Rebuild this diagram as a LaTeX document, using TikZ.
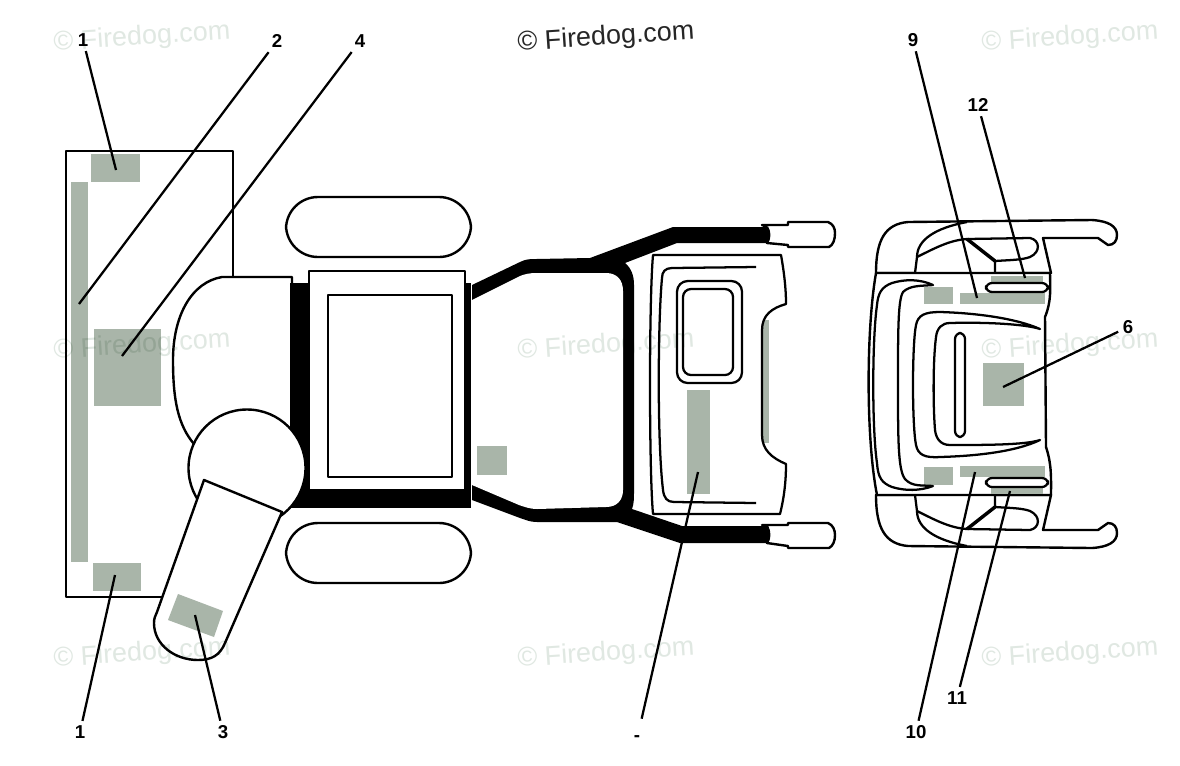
\documentclass[tikz,border=0pt]{standalone}
\usepackage{fontspec}
\setmainfont{Liberation Sans}
\usetikzlibrary{calc}
\definecolor{patch}{HTML}{A9B5A9}
\definecolor{mark}{HTML}{E0E8E2}
\tikzset{
  part/.style={draw=black,line width=1.8pt,fill=white,line join=round},
  thin part/.style={draw=black,line width=1.7pt,line join=round},
  patchbox/.style={fill=patch,draw=none},
  leader/.style={draw=black,line width=1.7pt},
  lab/.style={font=\fontsize{14}{16}\selectfont\bfseries,inner sep=0pt,outer sep=3.5pt},
  wmark/.style={font=\fontsize{20.2}{22}\selectfont,rotate=3.8,inner sep=0pt,text=mark},
}
\newcommand{\rearhandle}{%
  \draw[part] (876,273) .. controls (876,240) and (885,224) .. (908,222)
     -- (1092,220) .. controls (1108,221) and (1117,226) .. (1117,235)
     .. controls (1117,241) and (1114,245) .. (1108,245) -- (1098,238) -- (1043,238)
     -- (1051,273) -- cycle;
  \draw[thin part,fill=white] (915,273) -- (917,257) .. controls (935,248) and (950,240) .. (967,239)
     -- (1030,238) .. controls (1040,240) and (1041,252) .. (1030,257)
     .. controls (1022,260) and (1010,260) .. (995,261) -- (995,273);
  \draw[thin part] (917,257) .. controls (917,240) and (935,228) .. (967,222);
  \draw[black,line width=2.6pt] (967,239) -- (995,261);
}
\begin{document}
\begin{tikzpicture}[x=0.75pt,y=-0.75pt]
\useasboundingbox (0,0) rectangle (1180,765);
\fill[white] (0,0) rectangle (1180,765);

% --- left: blower housing
\draw[part] (66,151) rectangle (233,597);
\fill[patchbox] (91,154) rectangle (140,182);
\fill[patchbox] (71,182) rectangle (88,562);
\fill[patchbox] (94,329) rectangle (161,406);
\fill[patchbox] (93,563) rectangle (141,591);
\draw[part] (292,277) -- (222,277) .. controls (192,282) and (173,315) .. (173,360)
   .. controls (173,400) and (178,425) .. (194,444) -- (292,444) -- cycle;
\fill[black] (290,283) rectangle (471,508);
\draw[part] (309,271) rectangle (465,490);
\draw[part] (328,295) rectangle (452,477);
\draw[part,rounded corners=24] (286,197) rectangle (471,257);
\draw[part,rounded corners=24] (286,523) rectangle (471,583);
\draw[part] (247,468) circle[radius=58.5];
\draw[part] (204,480) -- (282,512) -- (225,643) .. controls (220,655) and (212,660) .. (198,660)
   .. controls (175,660) and (154,645) .. (154,623) .. controls (154,618) and (155,617) .. (157,612) -- cycle;
\fill[patchbox] (178,594) -- (223,611) -- (214,637) -- (168,620) -- cycle;

% --- middle: frame
\fill[black] (472,285) -- (520,262) .. controls (526,259) and (530,259) .. (536,259) -- (590,258)
  -- (673,227) -- (767,227) .. controls (772,231) and (772,239) .. (767,243) -- (677,243) -- (625,263)
  .. controls (631,268) and (634,275) .. (634,285) -- (634,490) .. controls (634,498) and (634,504) .. (632,509)
  -- (682,526) -- (767,526) .. controls (772,530) and (772,539) .. (767,543) -- (680,543) -- (617,522)
  -- (537,522) .. controls (530,522) and (526,520) .. (520,518) -- (472,500) -- cycle;
\fill[white] (472,300) -- (520,276) .. controls (525,274) and (530,273) .. (536,273) -- (606,273)
  .. controls (617,273) and (623,280) .. (623,291) -- (623,490) .. controls (623,500) and (617,507) .. (606,507)
  -- (537,509) .. controls (530,509) and (525,507) .. (519,505) -- (472,485) -- cycle;
\fill[patchbox] (477,446) rectangle (507,475);
\draw[part] (767,227) -- (762,225) -- (788,225) -- (788,222) -- (828,222)
   .. controls (833,224) and (835,228) .. (835,233) .. controls (835,240) and (833,245) .. (829,247)
   -- (788,247) -- (788,245) -- (767,243) .. controls (770,238) and (770,232) .. (767,227);
\draw[part] (767,526) -- (762,525) -- (788,525) -- (788,523) -- (828,523)
   .. controls (833,525) and (835,530) .. (835,535) .. controls (835,541) and (833,546) .. (829,548)
   -- (788,548) -- (788,546) -- (767,543) .. controls (770,538) and (770,532) .. (767,526);

% --- middle: panel
\fill[patchbox] (762,320) rectangle (769,443);
\draw[thin part,fill=white] (653,255) -- (781,255) .. controls (784,272) and (786,288) .. (786,304)
   .. controls (772,308) and (762,315) .. (762,330) -- (762,435)
   .. controls (762,450) and (772,458) .. (786,464) .. controls (786,482) and (784,498) .. (780,514)
   -- (653,514) .. controls (649,470) and (649,300) .. (653,255) -- cycle;
\draw[thin part] (756,267) -- (672,268) .. controls (665,268) and (662,272) .. (662,278)
   .. controls (658,320) and (657,440) .. (663,490) .. controls (664,498) and (667,502) .. (674,502) -- (756,503);
\draw[thin part,rounded corners=8] (677,281) rectangle (742,383);
\draw[thin part,rounded corners=6] (683,289) rectangle (733,375);
\fill[patchbox] (687,390) rectangle (710,494);

% --- right: rear view
\rearhandle
\begin{scope}[cm={1,0,0,-1,(0,768)}]
\rearhandle
\end{scope}
\draw[part] (876,273) -- (1050,273) .. controls (1050,285) and (1052,300) .. (1045,317)
   -- (1046,447) .. controls (1052,465) and (1051,480) .. (1051,495) -- (877,495)
   .. controls (866,440) and (866,330) .. (876,273) -- cycle;
\fill[patchbox] (924,287) rectangle (953,304);
\fill[patchbox] (924,467) rectangle (953,485);
\fill[patchbox] (960,293) rectangle (1045,304);
\fill[patchbox] (960,466) rectangle (1045,477);
\fill[patchbox] (991,276) rectangle (1043,283);
\fill[patchbox] (991,487) rectangle (1043,494);
\fill[patchbox] (983,363) rectangle (1024,406);
\draw[thin part,rounded corners=4.5] (986,283) rectangle (1048,292);
\draw[thin part,rounded corners=4.5] (986,478) rectangle (1048,487);
\draw[thin part,rounded corners=4.5] (955,333) rectangle (965,437);
\draw[thin part] (933,285) .. controls (920,279) and (905,279) .. (892,283)
   .. controls (881,287) and (878,294) .. (877,305) .. controls (872,340) and (872,430) .. (877,463)
   .. controls (878,478) and (882,483) .. (892,487) .. controls (905,491) and (920,491) .. (933,486)
   .. controls (922,485) and (912,487) .. (905,479) .. controls (898,470) and (898,440) .. (898,383)
   .. controls (898,330) and (898,300) .. (903,292) .. controls (910,285) and (922,286) .. (933,285) -- cycle;
\draw[thin part] (1040,329) .. controls (1015,318) and (975,313) .. (940,312)
   .. controls (925,312) and (918,315) .. (916,325) .. controls (912,345) and (912,425) .. (916,445)
   .. controls (918,455) and (925,458) .. (940,457) .. controls (975,456) and (1015,452) .. (1040,440)
   .. controls (1025,445) and (985,445) .. (950,445) .. controls (940,445) and (936,438) .. (935,430)
   .. controls (933,405) and (933,360) .. (936,337) .. controls (937,328) and (942,323) .. (950,323)
   .. controls (985,322) and (1025,324) .. (1040,329) -- cycle;

% --- labels and leaders
\node[lab] (a1) at (83,40) {1};
\node[lab] (a2) at (277,41) {2};
\node[lab] (a4) at (360,41) {4};
\node[lab] (b1) at (80,732) {1};
\node[lab] (b3) at (223,732) {3};
\node[lab,outer sep=13pt] (b7) at (637,739) {-};
\node[lab] (a9) at (913,40) {9};
\node[lab] (a12) at (978,105) {12};
\node[lab] (a6) at (1128,327) {6};
\node[lab] (b10) at (916,732) {10};
\node[lab] (b11) at (957,698) {11};
\coordinate (e1) at (116,170);
\coordinate (e2) at (79,304);
\coordinate (e4) at (122,356);
\coordinate (f1) at (115,575);
\coordinate (f3) at (195,615);
\coordinate (f7) at (698,472);
\coordinate (e9) at (977,298);
\coordinate (e12) at (1025,278);
\coordinate (e6) at (1003,387);
\coordinate (f10) at (975,472);
\coordinate (f11) at (1010,491);
\draw[leader] (a1) -- (e1);
\draw[leader] (a2) -- (e2);
\draw[leader] (a4) -- (e4);
\draw[leader] (b1) -- (f1);
\draw[leader] (b3) -- (f3);
\draw[leader] (b7) -- (f7);
\draw[leader] (a9) -- (e9);
\draw[leader] (a12) -- (e12);
\draw[leader] (a6) -- (e6);
\draw[leader] (b10) -- (f10);
\draw[leader] (b11) -- (f11);

% --- watermarks
\begin{scope}[blend mode=multiply]
\node[wmark] (w1) at (142,38) {© Firedog.com};
\node[wmark] (w3) at (1070,38) {© Firedog.com};
\node[wmark] (w4) at (142,346) {© Firedog.com};
\node[wmark] (w5) at (606,346) {© Firedog.com};
\node[wmark] (w6) at (1070,346) {© Firedog.com};
\node[wmark] (w7) at (142,654) {© Firedog.com};
\node[wmark] (w8) at (606,654) {© Firedog.com};
\node[wmark] (w9) at (1070,654) {© Firedog.com};
\end{scope}
\node[wmark,text=black!85] (w2) at (606,38) {© Firedog.com};
\end{tikzpicture}
\end{document}
